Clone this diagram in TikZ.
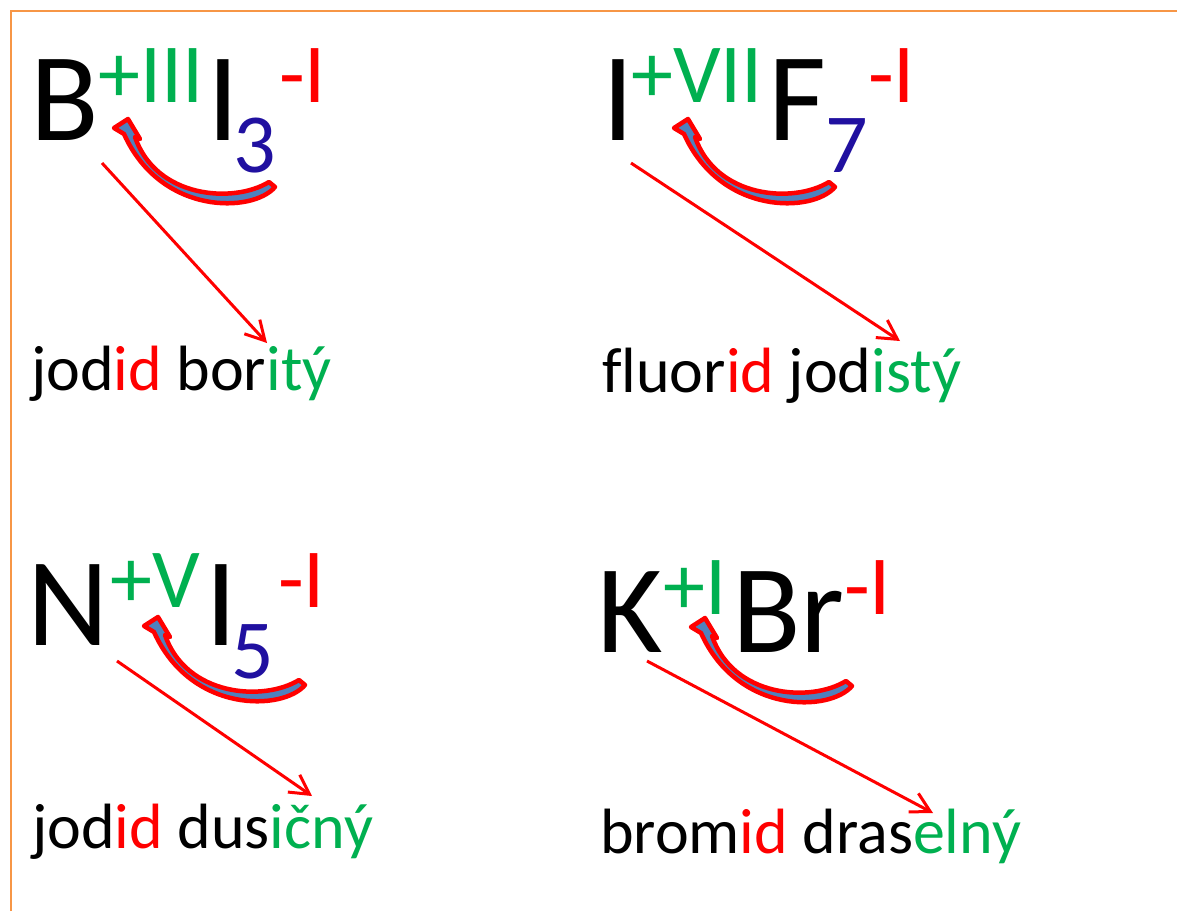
\documentclass[tikz,border=0pt]{standalone}
\usepackage{fontspec}
\setmainfont{Carlito}[Ligatures=NoCommon]
\usetikzlibrary{arrows.meta}
\definecolor{pgreen}{HTML}{00B050}
\definecolor{pred}{HTML}{FF0000}
\definecolor{pblue}{RGB}{32,16,160}
\definecolor{porange}{HTML}{F79646}
\definecolor{afill}{HTML}{4F81BD}
\newcommand\subfont{\fontsize{84}{88}\selectfont}
\tikzset{
 big/.style={anchor=base west, inner sep=0pt, font=\fontsize{126}{130}\selectfont},
 supr/.style={anchor=base west, inner sep=0pt, font=\subfont},
 cname/.style={anchor=base west, inner sep=0pt, font=\fontsize{64}{70}\selectfont},
 pointer/.style={draw=pred, line width=3pt, -{Straight Barb[length=19pt,width=21pt,line width=3pt]}},
 carrow/.style={draw=pred, fill=afill, line width=4.5pt, line join=round},
 frame/.style={draw=porange, line width=2pt},
}
\newcommand\curlarrow[1]{\begin{scope}[shift={#1}]\draw[carrow] (0,-1) -- (12,19) -- (7,17) .. controls (28,78) and (105,84) .. (141,62) -- (147,67) .. controls (125,93) and (33,96) .. (-4,14) -- (-14,8) -- cycle;\end{scope}}
\begin{document}
\begin{tikzpicture}[x=1pt,y=-1pt]
\useasboundingbox (0,0) rectangle (1177,911);
\fill[white] (0,0) rectangle (1177,911);
\draw[frame] (11,911) -- (11,11) -- (1177,11);
% formula 1
\node[big] (b1) at (30,140) {B};
\node[supr,text=pgreen] (b1ox) at (98,102) {+III};
\node[big] (b1i) at (207,140) {\makebox[22pt][l]{I}};
\node[supr,text=pblue] (b1n) at (233,172) {3};
\node[supr,text=pred] (b1ix) at (279,102) {-I};
% formula 2
\node[big] (f2i) at (602,140) {I};
\node[supr,text=pgreen] (f2ox) at (631,102) {+VII};
\node[big] (f2f) at (768,140) {\makebox[54pt][l]{F}};
\node[supr,text=pblue] (f2n) at (825,172) {7};
\node[supr,text=pred] (f2fx) at (868,102) {-I};
% formula 3
\node[big] (f3n) at (27,645) {N};
\node[supr,text=pgreen] (f3ox) at (110,607) {+V};
\node[big] (f3i) at (205,645) {\makebox[22pt][l]{I}};
\node[supr,text=pblue] (f3k) at (231,678) {5};
\node[supr,text=pred] (f3ix) at (278,607) {-I};
% formula 4
\node[big] (f4k) at (597,652) {K};
\node[supr,text=pgreen] (f4ox) at (663,614) {+I};
\node[big] (f4br) at (732,652) {Br};
\node[supr,text=pred] (f4bx) at (844,614) {-I};
% names
\node[cname] (n1) at (31,390) {jod\textcolor{pred}{id} bor\textcolor{pgreen}{itý}};
\node[cname] (n2) at (602,392) {fluor\textcolor{pred}{id} jod\textcolor{pgreen}{istý}};
\node[cname] (n3) at (32,848) {jod\textcolor{pred}{id} dus\textcolor{pgreen}{ičný}};
\node[cname] (n4) at (600,853) {brom\textcolor{pred}{id} dras\textcolor{pgreen}{elný}};
% curved arrows
\curlarrow{(128,120)}
\curlarrow{(688,120)}
\curlarrow{(158,618)}
\curlarrow{(705,619)}
% straight arrows
\coordinate (s1) at (102,163); \coordinate (e1) at (267,343);
\coordinate (s2) at (631,163); \coordinate (e2) at (900,341);
\coordinate (s3) at (117,661); \coordinate (e3) at (312,796);
\coordinate (s4) at (647,661); \coordinate (e4) at (933,813);
\draw[pointer] (s1) -- (e1);
\draw[pointer] (s2) -- (e2);
\draw[pointer] (s3) -- (e3);
\draw[pointer] (s4) -- (e4);
\end{tikzpicture}
\end{document}
